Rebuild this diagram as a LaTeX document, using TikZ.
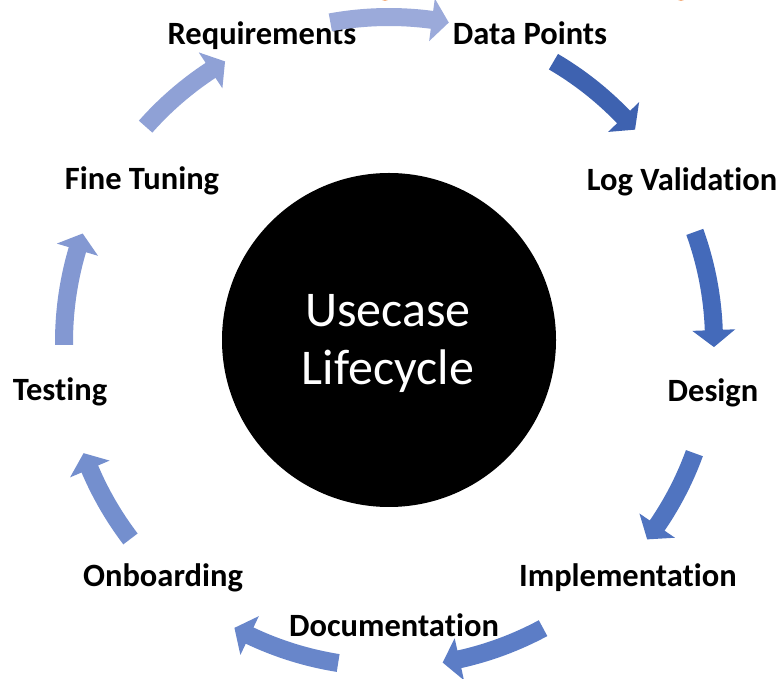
\documentclass[tikz,border=0pt]{standalone}
\usepackage{fontspec}
\setmainfont[Ligatures=NoCommon]{Carlito}
\definecolor{aA}{RGB}{155,170,218}
\definecolor{aB}{RGB}{62,98,176}
\definecolor{aC}{RGB}{68,106,186}
\definecolor{aD}{RGB}{80,116,192}
\definecolor{aE}{RGB}{92,125,198}
\definecolor{aF}{RGB}{104,134,202}
\definecolor{aG}{RGB}{116,143,206}
\definecolor{aH}{RGB}{131,152,210}
\definecolor{aI}{RGB}{143,161,214}
\definecolor{fragorange}{RGB}{244,177,131}
\newcommand\cyc[3]{%
  \fill[#1] (#2:334) arc[start angle=#2,end angle={#3+3},radius=334]
    -- ({#3+3}:346.5) -- (#3:325) -- ({#3+3}:303.5) -- ({#3+3}:316)
    arc[start angle={#3+3},end angle=#2,radius=316] -- cycle;}
\begin{document}
\begin{tikzpicture}[x=1pt,y=1pt,
  lbl/.style={font=\fontsize{32.5}{39}\selectfont\bfseries, anchor=base, inner sep=0pt}]
\useasboundingbox (0,0) rectangle (778,679);
\fill[fragorange] (385,681) ellipse (4 and 3);
\fill[fragorange] (681,681) ellipse (4 and 3);
\node[circle, fill=black, minimum size=334pt, inner sep=0pt] (hub) at (389,339) {};
\node[align=center, text=white, font=\fontsize{50}{58}\selectfont, anchor=base, inner sep=0pt] (title) at (388,294) {Usecase\\Lifecycle};
\node[lbl] (req) at (262,634) {Requirements};
\node[lbl] (dp) at (530,634) {Data Points};
\node[lbl] (lv) at (682,488) {Log Validation};
\node[lbl] (des) at (713,277) {Design};
\node[lbl] (imp) at (628,92) {Implementation};
\node[lbl] (doc) at (394,42) {Documentation};
\node[lbl] (onb) at (163,92) {Onboarding};
\node[lbl] (tst) at (60,278) {Testing};
\node[lbl] (ft) at (142,489) {Fine Tuning};
\begin{scope}[shift={(389,337)}]
\cyc{aA}{100.4}{79.4}
\cyc{aB}{59.6}{40.8}
\cyc{aC}{19.8}{-0.9}
\cyc{aD}{-20}{-37.4}
\cyc{aE}{-61.7}{-80.5}
\cyc{aF}{-99}{-118.4}
\cyc{aG}{-142.7}{-160}
\cyc{aH}{-179.5}{-199.5}
\cyc{aI}{138.5}{120.3}
\end{scope}
\end{tikzpicture}
\end{document}
